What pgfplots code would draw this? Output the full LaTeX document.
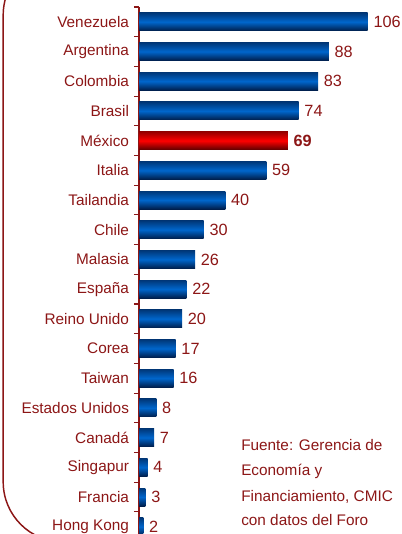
\documentclass[border=0pt]{standalone}
\usepackage{pgfplots}
\pgfplotsset{compat=1.18}
\usepackage{fontspec}
\setmainfont{Liberation Sans}
\definecolor{dred}{RGB}{140,22,22}
\definecolor{bluetop}{RGB}{0,55,120}
\definecolor{bluemid}{RGB}{0,102,204}
\definecolor{bluebot}{RGB}{0,30,75}
\definecolor{redtop}{RGB}{150,0,0}
\definecolor{redmid}{RGB}{255,0,0}
\definecolor{redbot}{RGB}{95,0,0}
\pgfplotsset{
  bbar/.style={xbar, bar shift=0pt, bar width=13.5pt, draw=none, top color=bluetop, bottom color=bluebot, middle color=bluemid},
  rbar/.style={xbar, bar shift=0pt, bar width=13.5pt, draw=none, top color=redtop, bottom color=redbot, middle color=redmid},
}
\begin{document}
\begin{tikzpicture}
\path[use as bounding box, clip] (0,0) rectangle (301.5pt,-400.5pt);
\draw[dred, line width=1.1pt, rounded corners=45pt] (2.4pt,33.75pt) rectangle (420pt,-406.5pt);
\begin{axis}[
  at={(104.25pt,-5.25pt)}, anchor=north west,
  scale only axis, width=194.2pt, height=400.95pt,
  xmin=0, xmax=120, ymin=0.5, ymax=18.5, y dir=reverse,
  hide x axis,
  axis y line*=left,
  y axis line style={-, dred, line width=0.8pt},
  ytick={1,...,18},
  yticklabels={Venezuela,Argentina,Colombia,Brasil,México,Italia,Tailandia,Chile,Malasia,España,Reino Unido,Corea,Taiwan,Estados Unidos,Canadá,Singapur,Francia,Hong Kong},
  major tick length=0pt,
  minor ytick={0.5,1.5,...,18.5},
  minor tick length=3.75pt,
  tick align=outside,
  ytick style={dred, line width=0.8pt},
  yticklabel style={font=\fontsize{11.5}{12}\selectfont, text=dred, xshift=-4pt},
  clip=false,
  /pgf/number format/assume math mode=true,
  point meta=x,
  nodes near coords,
  every node near coord/.append style={font=\fontsize{12.2}{13}\selectfont, text=dred, anchor=west, xshift=0.8pt},
]
\addplot[bbar] coordinates {(106,1)};
\addplot[bbar] coordinates {(88,2)};
\addplot[bbar] coordinates {(83,3)};
\addplot[bbar] coordinates {(74,4)};
\addplot[rbar, every node near coord/.append style={font=\fontsize{12.2}{13}\selectfont\bfseries}] coordinates {(69,5)};
\addplot[bbar] coordinates {(59,6)};
\addplot[bbar] coordinates {(40,7)};
\addplot[bbar] coordinates {(30,8)};
\addplot[bbar] coordinates {(26,9)};
\addplot[bbar] coordinates {(22,10)};
\addplot[bbar] coordinates {(20,11)};
\addplot[bbar] coordinates {(17,12)};
\addplot[bbar] coordinates {(16,13)};
\addplot[bbar] coordinates {(8,14)};
\addplot[bbar] coordinates {(7,15)};
\addplot[bbar] coordinates {(4,16)};
\addplot[bbar] coordinates {(3,17)};
\addplot[bbar] coordinates {(2,18)};
\end{axis}
\begin{scope}[dred, font=\fontsize{11.5}{12}\selectfont]
\node[anchor=base west, inner sep=0pt, text=dred] at (180.75pt,-338pt) {Fuente: Gerencia de};
\node[anchor=base west, inner sep=0pt, text=dred] at (180.75pt,-356.8pt) {Economía y};
\node[anchor=base west, inner sep=0pt, text=dred] at (180.75pt,-376.3pt) {Financiamiento, CMIC};
\node[anchor=base west, inner sep=0pt, text=dred] at (180.75pt,-394.3pt) {con datos del Foro};
\end{scope}
\end{tikzpicture}
\end{document}
